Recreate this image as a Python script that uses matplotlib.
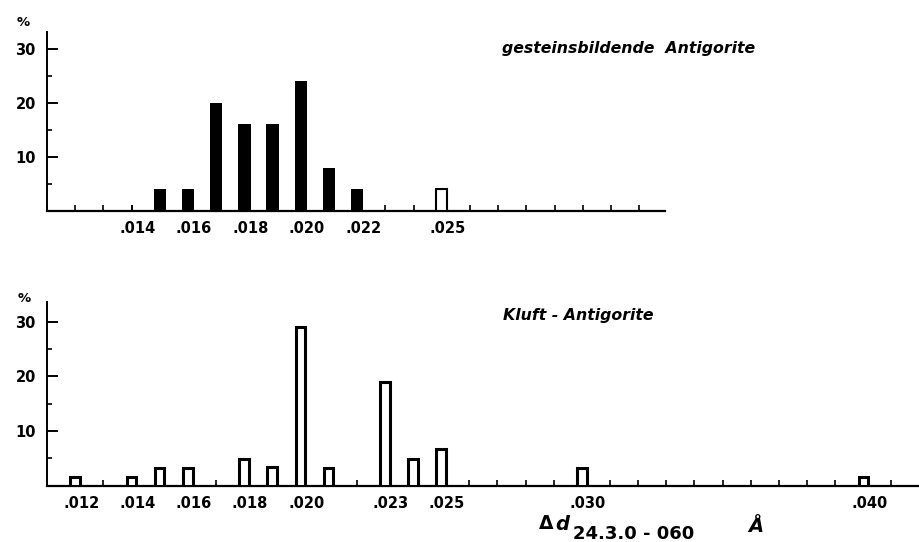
import matplotlib
matplotlib.use("Agg")
import matplotlib.pyplot as plt
from matplotlib.ticker import FixedLocator, MultipleLocator
from matplotlib.transforms import ScaledTranslation

# ---------------- data ----------------
top_filled_x = [0.015, 0.016, 0.017, 0.018, 0.019, 0.020, 0.021, 0.022]
top_filled_pct = [4, 4, 20, 16, 16, 24, 8, 4]
top_open_x = [0.025]
top_open_pct = [4]
top_ticks = [0.014, 0.016, 0.018, 0.020, 0.022, 0.025]
top_ticklabels = [".014", ".016", ".018", ".020", ".022", ".025"]

bot_x = [0.012, 0.014, 0.015, 0.016, 0.018, 0.019, 0.020, 0.021,
         0.023, 0.024, 0.025, 0.030, 0.040]
bot_pct = [1.6, 1.6, 3.2, 3.2, 4.8, 3.3, 29, 3.2, 19, 4.8, 6.6, 3.2, 1.6]
bot_ticks = [0.012, 0.014, 0.016, 0.018, 0.020, 0.023, 0.025, 0.030, 0.040]
bot_ticklabels = [".012", ".014", ".016", ".018", ".020", ".023", ".025", ".030", ".040"]

y_ticks = [10, 20, 30]
y_ticklabels = ["10", "20", "30"]
y_minor = [5, 15, 25]

title_top = "gesteinsbildende  Antigorite"
title_bot = "Kluft - Antigorite"

# ---------------- figure ----------------
W, H = 920, 542
fig = plt.figure(figsize=(W / 100, H / 100), dpi=100)
fig.patch.set_facecolor("white")

def px_axes(left, right, top, bottom):
    return fig.add_axes([left / W, 1 - bottom / H, (right - left) / W, (bottom - top) / H])

ax1 = px_axes(47, 665, 32, 211)
ax2 = px_axes(47, 920, 302, 485.5)

tickfont = dict(family="DejaVu Sans", weight="bold", size=10.5)

def style(ax, xmax, ymax, ticks, labels):
    ax.set_xlim(0.011, xmax)
    ax.set_ylim(0, ymax)
    for s in ("top", "right"):
        ax.spines[s].set_visible(False)
    ax.spines["left"].set_linewidth(1.4)
    ax.spines["bottom"].set_linewidth(1.6)
    ax.xaxis.set_major_locator(FixedLocator(ticks))
    ax.xaxis.set_minor_locator(MultipleLocator(0.001))
    ax.xaxis.remove_overlapping_locs = False
    ax.yaxis.set_major_locator(FixedLocator(y_ticks))
    ax.yaxis.set_minor_locator(FixedLocator(y_minor))
    ax.tick_params(axis="x", which="both", direction="in", length=4, width=1.2, pad=7.5)
    ax.tick_params(axis="y", which="major", direction="in", length=8, width=1.4, pad=8)
    ax.tick_params(axis="y", which="minor", direction="in", length=3.5, width=1.2)
    ax.set_xticks(ticks)
    ax.set_xticklabels(labels, fontdict=tickfont)
    ax.set_yticks(y_ticks)
    ax.set_yticklabels(y_ticklabels, fontdict=tickfont)
    off = ScaledTranslation(6 / 100, 0, fig.dpi_scale_trans)
    for lab in ax.get_xticklabels():
        lab.set_transform(lab.get_transform() + off)

style(ax1, 0.011 + 618 / 28.2 * 0.001, 33.1, top_ticks, top_ticklabels)
style(ax2, 0.011 + 873 / 28.15 * 0.001, 33.6, bot_ticks, bot_ticklabels)

ax1.bar(top_filled_x, top_filled_pct, width=0.00044, color="black", zorder=3)
ax1.bar(top_open_x, top_open_pct, width=0.00038, facecolor="white",
        edgecolor="black", linewidth=1.5, zorder=3)
ax2.bar(bot_x, bot_pct, width=0.00034, facecolor="white",
        edgecolor="black", linewidth=2.2, zorder=3)

titlefont = dict(family="DejaVu Sans", weight="bold", style="italic", size=11.3)
fig.text(502 / W, 1 - 53 / H, title_top, ha="left", va="baseline", **titlefont)
fig.text(503 / W, 1 - 320 / H, title_bot, ha="left", va="baseline", **titlefont)

pctfont = dict(family="DejaVu Sans", weight="bold", size=9.5)
fig.text(23 / W, 1 - 22 / H, "%", ha="center", va="center", **pctfont)
fig.text(24 / W, 1 - 298 / H, "%", ha="center", va="center", **pctfont)

fig.text(539 / W, 1 - 529 / H, "Δ", ha="left", va="baseline",
         family="DejaVu Sans", weight="bold", size=13.5)
fig.text(555 / W, 1 - 530 / H, "d", ha="left", va="baseline",
         family="DejaVu Sans", weight="bold", style="italic", size=14)
fig.text(573 / W, 1 - 539 / H, "24.3.0 - 060", ha="left", va="baseline",
         family="DejaVu Sans", weight="bold", size=13)
fig.text(748 / W, 1 - 532 / H, "Å", ha="left", va="baseline",
         family="DejaVu Sans", weight="bold", style="italic", size=14)

fig.savefig("out.png", dpi=100)
